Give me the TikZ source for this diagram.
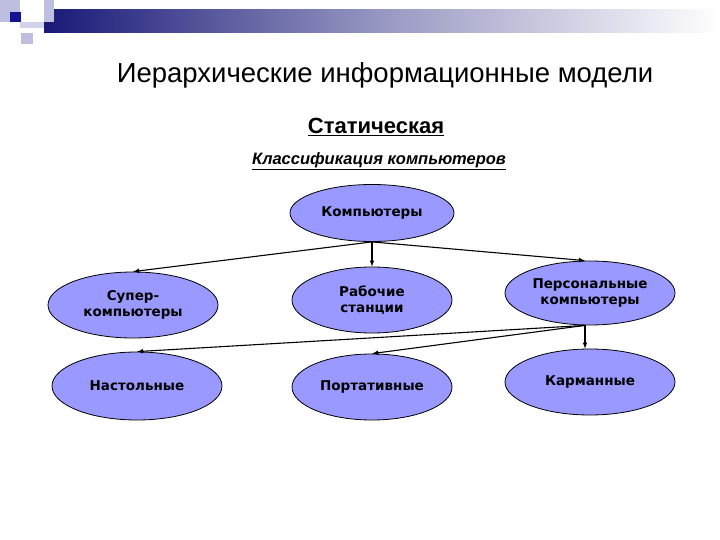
\documentclass[tikz,border=0pt]{standalone}
\usepackage{fontspec}
\setmainfont{Liberation Sans}
\newfontfamily\nodefont{DejaVu Sans}
\usetikzlibrary{shapes.geometric}
\definecolor{nfill}{RGB}{153,153,255}
\definecolor{navy}{RGB}{25,25,120}
\definecolor{pale}{RGB}{190,190,225}
\begin{document}
\begin{tikzpicture}[x=1pt,y=-1pt,
  ell/.style={ellipse,draw=black,line width=0.8pt,fill=nfill,minimum width=#1,align=center,font=\nodefont\bfseries\fontsize{13.5}{16}\selectfont,inner sep=0pt},
  ell/.default=170pt,
  arr/.style={-latex,line width=1.1pt}]
\useasboundingbox (0,0) rectangle (720,540);
\fill[white] (0,0) rectangle (720,540);
% header decoration
\shade[left color=navy,right color=white,middle color=navy!45!white] (44,10) rectangle (720,33);
\fill[pale] (0,0) rectangle (20,22);
\fill[pale] (44,0) rectangle (54,22);
\fill[pale!70] (20,22) rectangle (44,28);
\fill[navy!80!blue] (10,12) rectangle (21,22);
\fill[pale] (21,33) rectangle (33,44);
% titles
\node (t) at (385,75) {\fontsize{27.5}{32}\selectfont Иерархические информационные модели};
\node (s) at (376,127) {\fontsize{22}{26}\selectfont\bfseries\underline{Статическая}};
\node (c) at (379,161) {\fontsize{16.5}{20}\selectfont\bfseries\itshape\underline{Классификация компьютеров}};
% nodes
\node[ell=164pt,minimum height=57pt] (k) at (372,213) {Компьютеры};
\node[ell,minimum height=66pt] (sup) at (133,305) {Супер-\\компьютеры};
\node[ell=160pt,minimum height=66pt] (rab) at (372,300) {Рабочие\\станции};
\node[ell,minimum height=64pt] (per) at (590,293) {Персональные\\компьютеры};
\node[ell,minimum height=68pt] (nas) at (137,386) {Настольные};
\node[ell=160pt,minimum height=66pt] (por) at (372,387) {Портативные};
\node[ell,minimum height=66pt] (kar) at (590,382) {Карманные};
% connectors
\draw[arr] (k.south) -- (sup.north);
\draw[arr] (k.south) -- (rab.north);
\draw[arr] (k.south) -- ([xshift=-5pt]per.north);
\draw[arr] ([xshift=-5pt]per.south) -- (nas.north);
\draw[arr] ([xshift=-5pt]per.south) -- (por.north);
\draw[arr] ([xshift=-5pt]per.south) -- ([xshift=-5pt]kar.north);
\end{tikzpicture}
\end{document}
